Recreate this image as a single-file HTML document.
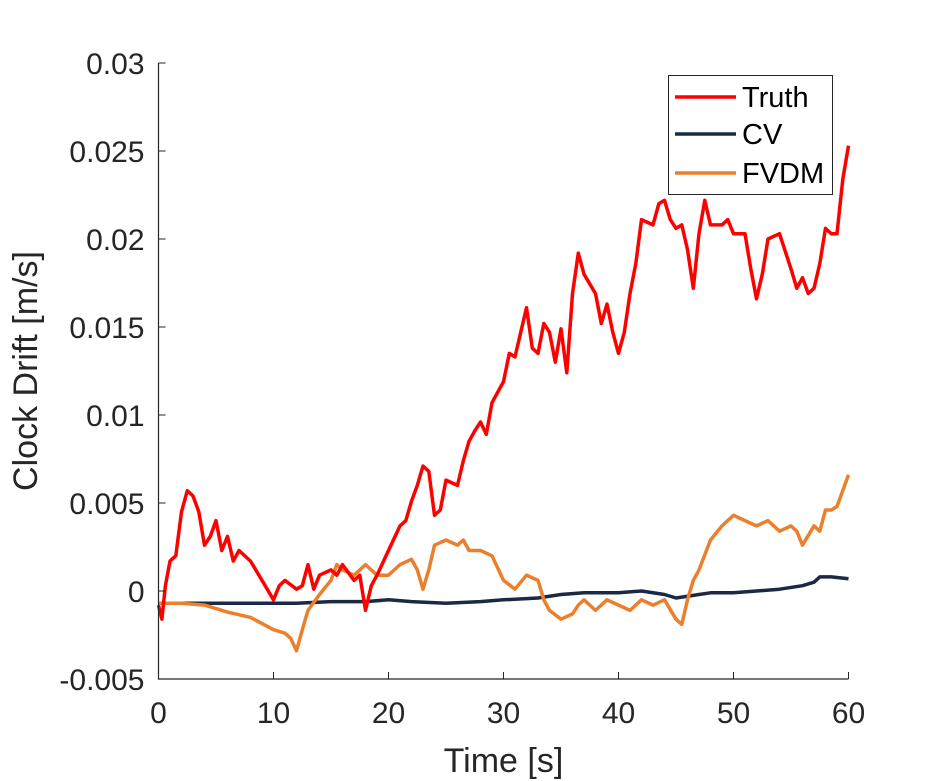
<!DOCTYPE html>
<html><head><meta charset="utf-8"><style>
html,body{margin:0;padding:0;background:#fff;}
svg{display:block;font-family:"Liberation Sans",sans-serif;}
</style></head><body>
<svg id="chart" width="938" height="781"></svg>
<script>
const truthT=[0,0.3,0.6,1,1.5,2,2.5,3,3.5,4,4.5,5,5.5,6,6.5,7,8,9,10,10.5,11,12,12.5,13,13.5,14,15,15.5,16,17,17.5,18,18.5,19,20,21,21.5,22,22.5,23,23.5,24,24.5,25,26,26.5,27,27.5,28,28.5,29,30,30.5,31,32,32.5,33,33.5,34,34.5,35,35.5,36,36.5,37,38,38.5,39,39.5,40,40.5,41,41.5,42,43,43.5,44,44.5,45,45.5,46,46.5,47,47.5,48,49,49.5,50,51,51.5,52,52.5,53,54,55,55.5,56,56.5,57,57.5,58,58.5,59,59.5,60];
const truthV=[-0.0008,-0.0016,0.0003,0.0017,0.002,0.0045,0.0057,0.0054,0.0045,0.0026,0.0031,0.004,0.0023,0.0031,0.0017,0.0023,0.0017,0.0006,-0.0005,0.0003,0.0006,0.0001,0.0003,0.0015,0.0001,0.0009,0.0012,0.0009,0.0015,0.0006,0.0009,-0.0011,0.0003,0.0009,0.0023,0.0037,0.004,0.0051,0.006,0.0071,0.0068,0.0043,0.0046,0.0063,0.006,0.0074,0.0085,0.0091,0.0096,0.0089,0.0107,0.0119,0.0135,0.0133,0.0161,0.0138,0.0135,0.0152,0.0147,0.013,0.0149,0.0124,0.0169,0.0192,0.018,0.0169,0.0152,0.0163,0.0147,0.0135,0.0147,0.0169,0.0186,0.0211,0.0208,0.022,0.0222,0.0211,0.0206,0.0208,0.0194,0.0172,0.0203,0.0222,0.0208,0.0208,0.0211,0.0203,0.0203,0.0183,0.0166,0.018,0.02,0.0203,0.0183,0.0172,0.0178,0.0169,0.0172,0.0186,0.0206,0.0203,0.0203,0.0234,0.0253];
const cvT=[0,3,6,9,12,15,18,20,22,25,28,30,33,35,37,40,42,44,45,47,48,50,52,54,56,57,57.5,58.5,60];
const cvV=[-0.0007,-0.0007,-0.0007,-0.0007,-0.0007,-0.0006,-0.0006,-0.0005,-0.0006,-0.0007,-0.0006,-0.0005,-0.0004,-0.0002,-0.0001,-0.0001,0,-0.0002,-0.0004,-0.0002,-0.0001,-0.0001,0,0.0001,0.0003,0.0005,0.0008,0.0008,0.0007];
const fvT=[0,2,4,6,8,10,11,11.5,12,12.5,13,14,15,15.5,16,17,17.5,18,19,20,21,22,22.5,23,23.5,24,25,26,26.5,27,28,29,30,31,32,33,33.5,34,35,36,36.5,37,38,39,40,41,42,43,44,45,45.5,46,46.5,47,48,49,50,51,52,53,54,55,55.5,56,57,57.5,58,58.5,59,60];
const fvV=[-0.0007,-0.0007,-0.0008,-0.0012,-0.0015,-0.0022,-0.0024,-0.0027,-0.0034,-0.0022,-0.0011,-0.0002,0.0006,0.0015,0.0012,0.0009,0.0012,0.0015,0.0009,0.0009,0.0015,0.0018,0.0012,0.0001,0.0012,0.0026,0.0029,0.0026,0.0029,0.0023,0.0023,0.002,0.0006,0.0001,0.0009,0.0006,-0.0005,-0.0011,-0.0016,-0.0013,-0.0008,-0.0005,-0.0011,-0.0005,-0.0008,-0.0011,-0.0005,-0.0008,-0.0005,-0.0016,-0.0019,-0.0005,0.0006,0.0012,0.0029,0.0037,0.0043,0.004,0.0037,0.004,0.0034,0.0037,0.0034,0.0026,0.0037,0.0034,0.0046,0.0046,0.0048,0.0066];
const xTicks=[0,10,20,30,40,50,60];
const yTicks=[-0.005,0,0.005,0.01,0.015,0.02,0.025,0.03];
const yTickLabels=["-0.005","0","0.005","0.01","0.015","0.02","0.025","0.03"];

const NS="http://www.w3.org/2000/svg";
const svg=document.getElementById('chart');
const L=158.5,R=848.5,T=63,B=679;
const xs=t=>L+(t-0)/(60-0)*(R-L);
const ys=v=>B-(v+0.005)/(0.035)*(B-T);
function mk(tag,attrs){const e=document.createElementNS(NS,tag);for(const k in attrs)e.setAttribute(k,attrs[k]);svg.appendChild(e);return e;}

function series(T_,V_,color,name){
  const d=T_.map((t,i)=>(i?'L':'M')+xs(t).toFixed(1)+','+ys(V_[i]).toFixed(1)).join('');
  const p=mk('path',{d:d,fill:'none',stroke:color,'stroke-width':3.5,'stroke-linejoin':'round'});
  
  
}
series(cvT,cvV,'#1a2a44','cv-line');
series(fvT,fvV,'#ec7f2b','fvdm-line');
series(truthT,truthV,'#ff0000','truth-line');

const ax=mk('path',{d:`M${L},${T}L${L},${B}L${R},${B}`,fill:'none',stroke:'#262626','stroke-width':1.2});


xTicks.forEach(t=>{
  mk('line',{x1:xs(t),x2:xs(t),y1:B,y2:B-7,stroke:'#262626','stroke-width':1});
  const tx=mk('text',{x:xs(t),y:B+44,'text-anchor':'middle','font-size':30,fill:'#262626'});
  tx.textContent=t;
  
  
});
yTicks.forEach((v,i)=>{
  mk('line',{x1:L,x2:L+7,y1:ys(v),y2:ys(v),stroke:'#262626','stroke-width':1});
  const tx=mk('text',{x:L-14,y:ys(v)+11,'text-anchor':'end','font-size':30,fill:'#262626'});
  tx.textContent=yTickLabels[i];
  
  
});
const xl=mk('text',{x:(L+R)/2,y:772,'text-anchor':'middle','font-size':34,fill:'#262626'});
xl.textContent='Time [s]';


const yl=mk('text',{x:0,y:0,'text-anchor':'middle','font-size':34,fill:'#262626',transform:`translate(37,${(T+B)/2}) rotate(-90)`});
yl.textContent='Clock Drift [m/s]';



const lg=mk('rect',{x:668.5,y:75.5,width:164,height:119,fill:'#fff',stroke:'#262626','stroke-width':1});


const entries=[['Truth','#ff0000',97],['CV','#1a2a44',134],['FVDM','#ec7f2b',173]];
entries.forEach(e=>{
  mk('line',{x1:675,x2:736,y1:e[2],y2:e[2],stroke:e[1],'stroke-width':3.5});
  const tx=mk('text',{x:742,y:e[2]+10,'font-size':29,fill:'#000'});
  tx.textContent=e[0];
  
  
});
</script>
</body></html>
